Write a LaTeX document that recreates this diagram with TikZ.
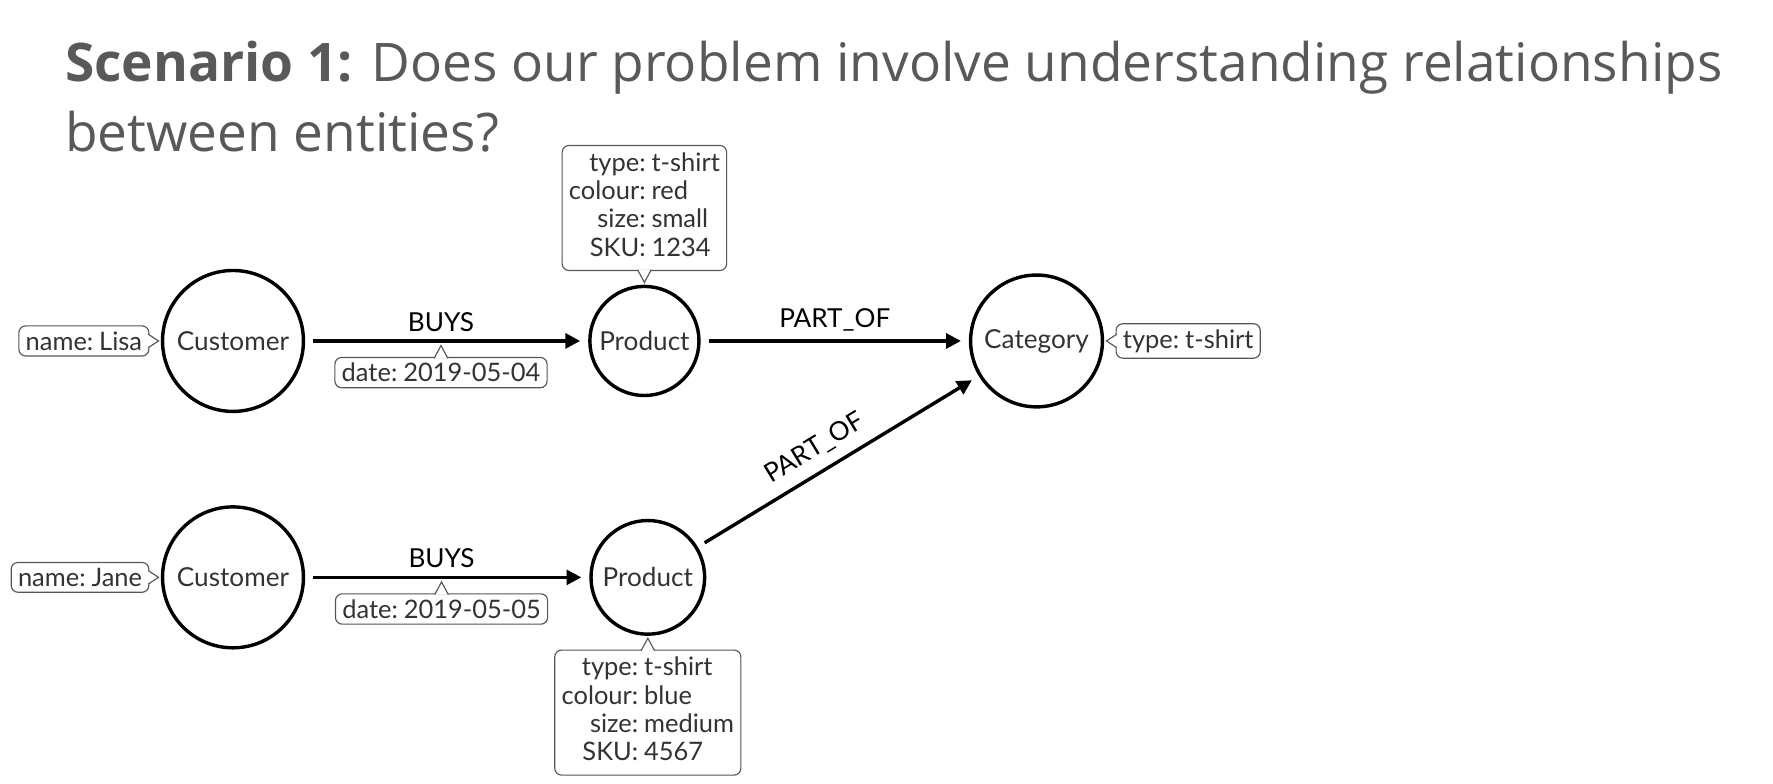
\documentclass[tikz,border=0pt]{standalone}
\usepackage{fontspec}
\setmainfont{Lato}
\newfontfamily\titlefont{Open Sans}
\usetikzlibrary{arrows.meta,positioning}
\definecolor{titlegray}{HTML}{595959}
\definecolor{propgray}{HTML}{555555}
\definecolor{textgray}{HTML}{333333}

\tikzset{
    entity/.style={circle, draw=black, line width=1.5pt, text=textgray, inner sep=0pt},
    prop/.style={draw=propgray, line width=0.5pt, rounded corners=3pt, fill=white, text=textgray, inner xsep=3pt, inner ysep=2.5pt,
        font=\fontsize{11.2}{12.5}\selectfont},
    tail/.style={draw=propgray, line width=0.5pt, fill=white},
    rel/.style={->, line width=1.5pt, shorten >=3.5pt, shorten <=3.5pt},
    titletext/.style={anchor=base west, text=titlegray, inner sep=0pt, font=\titlefont\fontsize{23.4}{30}\selectfont}
}

\begin{document}
\begin{tikzpicture}[x=1pt, y=1pt, on grid, auto,
        font=\fontsize{11.5}{12.5}\selectfont, >={Triangle[length=6.5pt,width=6.5pt]}]
    \useasboundingbox (0,0) rectangle (780,-344.5);
    % title
    \node[titletext] (title1) at (28.5,-36) {\textbf{Scenario 1:} Does our problem involve understanding relationships};
    \node[titletext] (title2) at (28.5,-66.5) {between entities?};

    % entities
    \node[entity, minimum size=62pt] (cust1) at (102.5,-150) {Customer};
    \node[entity, minimum size=48pt] [right=181pt of cust1] (prod1) {Product};
    \node[entity, minimum size=58pt] [right=172.5pt of prod1] (cat) {Category};
    \node[entity, minimum size=62pt] [below=104pt of cust1] (cust2) {Customer};
    \node[entity, minimum size=50pt] [right=182.5pt of cust2] (prod2) {Product};

    % properties
    \node[prop, on grid=false, left=5pt of cust1] (lisa) {name:\hspace{2.6pt}Lisa};
    \node[prop, on grid=false, left=5pt of cust2] (jane) {name:\hspace{2.6pt}Jane};
    \node[prop, on grid=false, right=5pt of cat] (cattype) {type:\hspace{2.6pt}t-shirt};
    \node[prop, on grid=false, above=6pt of prod1] (prod1props) {\begin{tabular}{@{}r@{:\hspace{2.6pt}}l@{}}type & t-shirt\\ colour & red\\ size & small\\ SKU & 1234\end{tabular}};
    \node[prop, on grid=false, below=6pt of prod2] (prod2props) {\begin{tabular}{@{}r@{:\hspace{2.6pt}}l@{}}type & t-shirt\\ colour & blue\\ size & medium\\ SKU & 4567\end{tabular}};

    % relationships
    \path[rel]
        (cust1) edge node[pos=0.48] {BUYS} node[prop, pos=0.48, below=7pt] (date1) {date:\hspace{2.6pt}2019-05-04} (prod1)
        (cust2) edge node[pos=0.48] {BUYS} node[prop, pos=0.48, below=7pt] (date2) {date:\hspace{2.6pt}2019-05-05} (prod2)
        (prod1) edge node {PART\_OF} (cat)
        (prod2) edge node[sloped, pos=0.46, inner sep=4.5pt] {PART\_OF} (cat);

    % callout tails
    \draw[tail] ([xshift=-0.6pt,yshift=3pt]lisa.east) -- ++(4.6pt,-3pt) -- ++(-4.6pt,-3pt);
    \draw[tail] ([xshift=-0.6pt,yshift=3pt]jane.east) -- ++(4.6pt,-3pt) -- ++(-4.6pt,-3pt);
    \draw[tail] ([xshift=0.6pt,yshift=3pt]cattype.west) -- ++(-4.6pt,-3pt) -- ++(4.6pt,-3pt);
    \draw[tail] ([xshift=-3pt,yshift=-0.6pt]date1.north) -- ++(3pt,5.6pt) -- ++(3pt,-5.6pt);
    \draw[tail] ([xshift=-3pt,yshift=-0.6pt]date2.north) -- ++(3pt,5.6pt) -- ++(3pt,-5.6pt);
    \draw[tail] ([xshift=-3pt,yshift=0.6pt]prod1props.south) -- ++(3pt,-5.6pt) -- ++(3pt,5.6pt);
    \draw[tail] ([xshift=-3pt,yshift=-0.6pt]prod2props.north) -- ++(3pt,5.6pt) -- ++(3pt,-5.6pt);
\end{tikzpicture}
\end{document}
